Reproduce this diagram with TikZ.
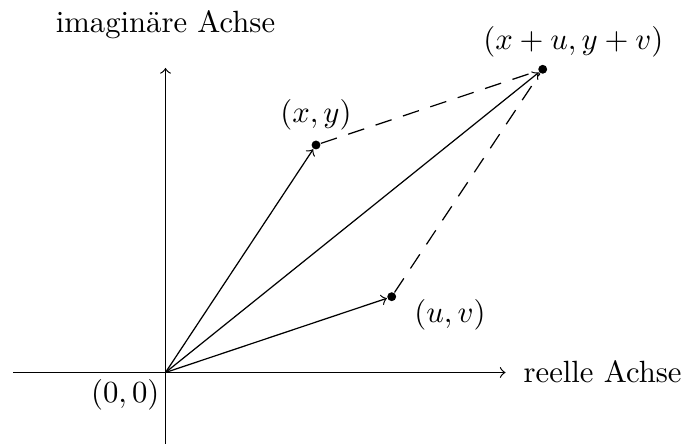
\documentclass[tikz,border=0pt]{standalone}
\begin{document}
\begin{tikzpicture}[x=0.32573pt,y=-0.32573pt,
  line width=0.4pt,
  dot/.style={circle,fill=black,inner sep=0pt,minimum size=2.9pt},
  lbl/.style={inner sep=0pt},
  vec/.style={->},
  dashline/.style={dash pattern=on 5.5pt off 3.9pt}]
\useasboundingbox (0,0) rectangle (685,444);
% axes
\coordinate (O) at (165.5,372.5);
\coordinate (xl) at (13,372.5);
\coordinate (xr) at (505.5,372.5);
\coordinate (yb) at (165.5,445);
\coordinate (yt) at (165.5,68);
\draw[->] (xl) -- (xr);
\draw[->] (yb) -- (yt);
% points
\node[dot] (P) at (316,145) {};
\node[dot] (Q) at (391.7,296.7) {};
\node[dot] (S) at (542.7,69.3) {};
% vectors
\draw[vec] (O) -- (P);
\draw[vec] (O) -- (Q);
\draw[vec] (O) -- (S);
% dashed completion
\draw[dashline] (P) -- (S);
\draw[dashline] (Q) -- (S);
% labels
\node[lbl,anchor=base] (ly) at (165.5,33) {imaginäre Achse};
\node[lbl,anchor=base west] (lx) at (523,382.3) {reelle Achse};
\node[lbl,anchor=base east] (l0) at (160,403) {$(0,0)$};
\node[lbl,anchor=base] (lP) at (316,123) {$(x,y)$};
\node[lbl,anchor=base] (lQ) at (450,323) {$(u,v)$};
\node[lbl,anchor=base] (lS) at (573.3,49.7) {$(x+u,y+v)$};
\end{tikzpicture}
\end{document}
